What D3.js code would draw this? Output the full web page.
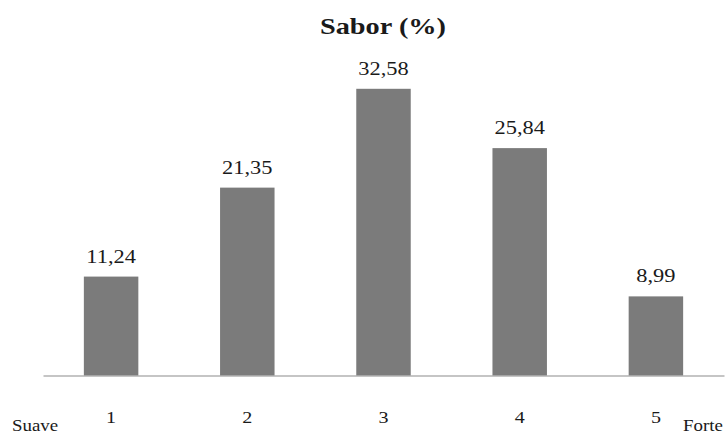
<!DOCTYPE html>
<html>
<head>
<meta charset="utf-8">
<script src="https://cdn.jsdelivr.net/npm/d3@7"></script>
<style>
  html, body { margin: 0; padding: 0; background: #fff; }
  svg { display: block; }
</style>
</head>
<body>
<svg id="chart" width="728" height="434"></svg>
<script>
// Flavour intensity distribution
const categories = ["1", "2", "3", "4", "5"];
const values = [11.24, 21.35, 32.58, 25.84, 8.99];
const valueLabels = ["11,24", "21,35", "32,58", "25,84", "8,99"];
const title = "Sabor (%)";
const lowLabel = "Suave";
const highLabel = "Forte";

const baseY = 375.5;
const stretch = 1.18; // wide serif lettering

const svg = d3.select("#chart");

const x = d3.scaleBand()
  .domain(categories)
  .range([43, 724])
  .paddingInner(0.6)
  .paddingOuter(0.3);

const y = d3.scaleLinear()
  .domain([0, 35])
  .range([baseY, baseY - 35 * 8.8]);

// horizontally stretched text placed at (px, py)
function label(g, str, px, py, size, weight, anchor) {
  return g.append("text")
    .attr("transform", `translate(${px},${py}) scale(${stretch},1)`)
    .attr("text-anchor", anchor || "middle")
    .style("font-family", '"Liberation Serif"')
    .style("font-size", size + "px")
    .style("font-weight", weight || "normal")
    .style("fill", "#1a1a1a")
    .text(str);
}

// bars
svg.append("g").selectAll("rect")
  .data(values)
  .join("rect")
  .attr("x", (d, i) => x(categories[i]))
  .attr("width", x.bandwidth())
  .attr("y", d => y(d))
  .attr("height", d => baseY - y(d))
  .attr("fill", "#7b7b7b");

// baseline axis
const axis = svg.append("g")
  .attr("transform", `translate(0,${baseY})`)
  .call(d3.axisBottom(x).tickSize(0).tickFormat(""));
axis.select(".domain").attr("stroke", "#8c8c8c").attr("stroke-width", 1.2);

// value labels
const lg = svg.append("g");
values.forEach((v, i) => {
  label(lg, valueLabels[i], x(categories[i]) + x.bandwidth() / 2, y(v) - 14, 19);
});

// category labels
categories.forEach(c => {
  label(lg, c, x(c) + x.bandwidth() / 2, 423, 17);
});

// scale end labels
label(lg, lowLabel, 12, 431, 16, "normal", "start");
label(lg, highLabel, 683, 431, 16, "normal", "start");

// title
label(lg, title, 383, 34, 24, "bold");
</script>
</body>
</html>
